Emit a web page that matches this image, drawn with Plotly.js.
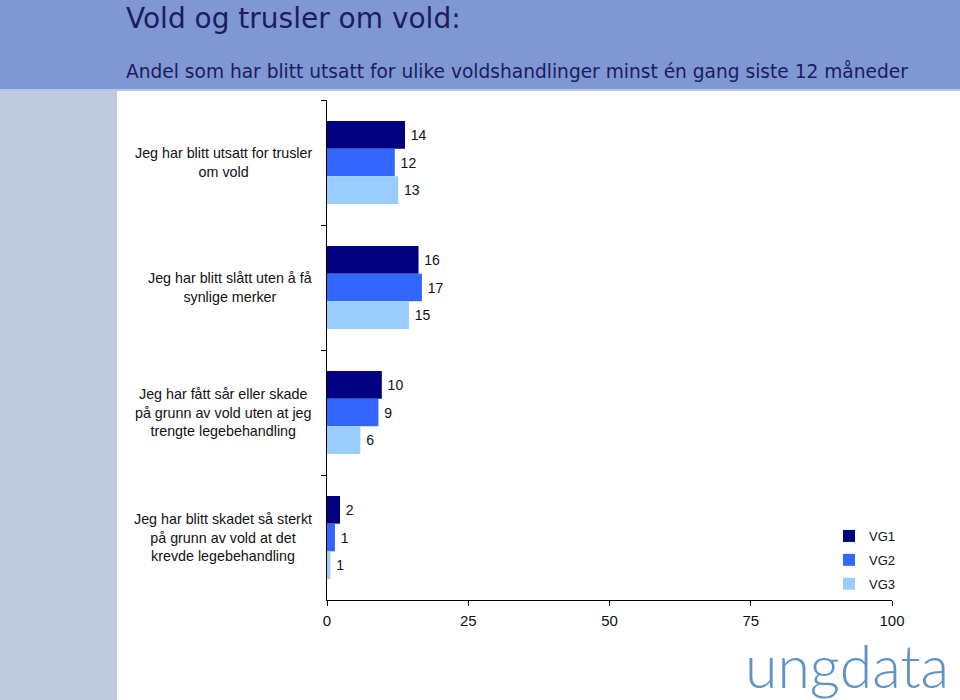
<!DOCTYPE html>
<html>
<head>
<meta charset="utf-8">
<script src="https://cdn.plot.ly/plotly-3.0.1.min.js"></script>
<style>html,body{margin:0;padding:0;background:#fff;}#chart{width:960px;height:700px;}</style>
</head>
<body>
<div id="chart"></div>
<script>
const categories = [
  "Jeg har blitt utsatt for trusler<br>om vold",
  "Jeg har blitt slått uten å få<br>synlige merker",
  "Jeg har fått sår eller skade<br>på grunn av vold uten at jeg<br>trengte legebehandling",
  "Jeg har blitt skadet så sterkt<br>på grunn av vold at det<br>krevde legebehandling"
];
const seriesNames = ["VG1", "VG2", "VG3"];
const vg1 = [13.8, 16.2, 9.7, 2.3];
const vg2 = [12.0, 16.8, 9.1, 1.4];
const vg3 = [12.6, 14.5, 5.9, 0.6];
const xTicks = [0, 25, 50, 75, 100];
const titleText = "Vold og trusler om vold:";
const subtitleText = "Andel som har blitt utsatt for ulike voldshandlinger minst én gang siste 12 måneder";
const logoText = "ungdata";

const colors = ["#000080", "#3366ff", "#99ccff"];
const W = 960, H = 700;
const M = {l: 327, r: 68, t: 100, b: 100};
const px2x = p => (p - M.l) / (W - M.l - M.r);
const py2y = p => (H - M.b - p) / (H - M.t - M.b);

const FONT = "Arial, 'Liberation Sans', sans-serif";
const values = [vg1, vg2, vg3];
const traces = values.map((v, i) => ({
  type: "bar",
  orientation: "h",
  name: seriesNames[i],
  legendgroup: seriesNames[i],
  y: categories,
  x: v,
  marker: {color: colors[i], line: {width: 0}},
  texttemplate: "\u2009%{x:.0f}",
  textposition: "outside",
  cliponaxis: false,
  textfont: {family: FONT, size: 14, color: "#111"},
  hoverinfo: "x+name"
}));

const annotations = categories.map(c => ({
  xref: "paper", yref: "y", x: px2x(314), y: c,
  xanchor: "right", yanchor: "middle", align: "center",
  text: c, showarrow: false,
  font: {family: FONT, size: 14.3, color: "#111"}
}));
annotations.push({
  xref: "paper", yref: "paper", x: px2x(124), y: py2y(18),
  xanchor: "left", yanchor: "middle", text: titleText, showarrow: false,
  font: {family: "'DejaVu Sans', Verdana, sans-serif", size: 28, color: "#1c1c5e"}
});
annotations.push({
  xref: "paper", yref: "paper", x: px2x(124), y: py2y(71),
  xanchor: "left", yanchor: "middle", text: subtitleText, showarrow: false,
  font: {family: "'DejaVu Sans', Verdana, sans-serif", size: 18.6, color: "#1c1c5e"}
});
annotations.push({
  xref: "paper", yref: "paper", x: px2x(743), y: py2y(665),
  xanchor: "left", yanchor: "middle", text: logoText, showarrow: false,
  font: {family: "Lato, 'Open Sans', sans-serif", size: 59, color: "#5f93c8", weight: 300}
});

const shapes = [
  {type: "rect", xref: "paper", yref: "paper", x0: px2x(0), x1: px2x(W), y0: py2y(0), y1: py2y(89),
   fillcolor: "#7f97d3", line: {width: 0}, layer: "below"},
  {type: "rect", xref: "paper", yref: "paper", x0: px2x(0), x1: px2x(W), y0: py2y(89), y1: py2y(91),
   fillcolor: "#b7c5ea", line: {width: 0}, layer: "below"},
  {type: "rect", xref: "paper", yref: "paper", x0: px2x(0), x1: px2x(117), y0: py2y(91), y1: py2y(H),
   fillcolor: "#c0cadf", line: {width: 0}, layer: "below"}
];

const layout = {
  width: W, height: H,
  margin: M,
  paper_bgcolor: "#ffffff",
  plot_bgcolor: "rgba(0,0,0,0)",
  barmode: "group",
  bargap: 0.336,
  bargroupgap: 0,
  showlegend: true,
  legend: {
    x: px2x(829), y: py2y(521), xanchor: "left", yanchor: "top",
    traceorder: "grouped", tracegroupgap: 4,
    font: {family: FONT, size: 13, color: "#111"},
    bgcolor: "rgba(0,0,0,0)", itemwidth: 30
  },
  xaxis: {
    range: [0, 100], tickvals: xTicks, ticktext: xTicks.map(String),
    ticks: "outside", ticklen: 5, tickcolor: "#000", tickwidth: 1,
    showline: true, linecolor: "#000", linewidth: 1,
    showgrid: false, zeroline: false, fixedrange: true,
    ticklabelstandoff: 2,
    tickfont: {family: FONT, size: 15, color: "#111"}
  },
  yaxis: {
    type: "category", autorange: "reversed",
    showticklabels: false, ticks: "outside", tickson: "boundaries",
    ticklen: 5, tickcolor: "#000", tickwidth: 1,
    showline: true, linecolor: "#000", linewidth: 1,
    showgrid: false, zeroline: false, fixedrange: true
  },
  annotations: annotations,
  shapes: shapes
};

Plotly.newPlot("chart", traces, layout, {displayModeBar: false, staticPlot: true});
</script>
</body>
</html>
